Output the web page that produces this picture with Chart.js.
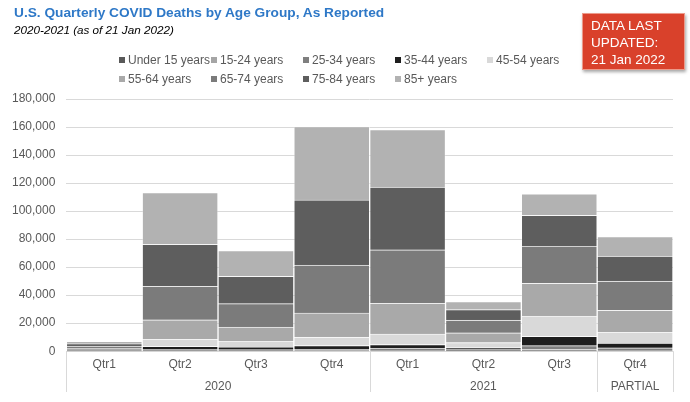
<!DOCTYPE html>
<html>
<head>
<meta charset="utf-8">
<script src="https://cdn.jsdelivr.net/npm/chart.js@4/dist/chart.umd.min.js"></script>
<style>
  body { margin: 0; background: #fff; font-family: "Liberation Sans", Arial, sans-serif; }
  #wrap { position: relative; width: 690px; height: 402px; }
  canvas { position: absolute; left: 0; top: 0; }
  #title { position: absolute; left: 14px; top: 5px; font-size: 13.7px; font-weight: bold; color: #2e78c7; }
  #subtitle { position: absolute; left: 14px; top: 23px; font-size: 11.7px; font-style: italic; color: #000; }
  #legend { position: absolute; left: 119px; top: 53px; }
  .item { position: absolute; font-size: 12px; color: #595959; white-space: nowrap; line-height: 14px; }
  .item span { display: inline-block; width: 6px; height: 6px; margin-right: 3px; vertical-align: 1px; }
  #updated { position: absolute; left: 582px; top: 13px; width: 103px; height: 57px; background: #d9412b;
             color: #fff; font-size: 13.5px; line-height: 17px; box-sizing: border-box; padding: 3px 0 0 8px;
             border: 1px solid #ec9a8a; box-shadow: 1px 2px 3px rgba(0,0,0,0.35); }
</style>
</head>
<body>
<div id="wrap">
  <canvas id="chart" width="690" height="402"></canvas>
  <div id="title">U.S. Quarterly COVID Deaths by Age Group, As Reported</div>
  <div id="subtitle">2020-2021 (as of 21 Jan 2022)</div>
  <div id="legend"></div>
  <div id="updated">DATA LAST<br>UPDATED:<br>21 Jan 2022</div>
</div>
<script>
// Data
const quarters = ['Qtr1', 'Qtr2', 'Qtr3', 'Qtr4', 'Qtr1', 'Qtr2', 'Qtr3', 'Qtr4'];
const groupNames = ['2020', '2021', 'PARTIAL'];
const groupCenters = [1.5, 5, 7];
const groupEdges = [-0.5, 3.5, 6.5, 7.5];
const yTicks = [0, 20000, 40000, 60000, 80000, 100000, 120000, 140000, 160000, 180000];

const ageGroups = ['Under 15 years', '15-24 years', '25-34 years', '35-44 years', '45-54 years',
                   '55-64 years', '65-74 years', '75-84 years', '85+ years'];
const colors = ['#595959', '#a5a5a5', '#7f7f7f', '#1e1e1e', '#d9d9d9',
                '#a9a9a9', '#7b7b7b', '#5e5e5e', '#b2b2b2'];

const under15 = [5, 80, 70, 100, 150, 100, 200, 150];
const age15to24 = [20, 300, 300, 400, 600, 300, 1000, 500];
const age25to34 = [80, 900, 800, 1100, 1400, 800, 2800, 1800];
const age35to44 = [220, 2200, 1900, 2500, 2600, 1400, 6700, 3300];
const age45to54 = [550, 5000, 4100, 6000, 7600, 3600, 14300, 7700];
const age55to64 = [1100, 13900, 10000, 17200, 21800, 7000, 23500, 15800];
const age65to74 = [1600, 23900, 16800, 34100, 38200, 9100, 26300, 20800];
const age75to84 = [1800, 30000, 19500, 46600, 44700, 7400, 22200, 17900];
const age85plus = [1700, 37000, 18400, 52400, 41200, 5700, 15300, 13900];

const series = [under15, age15to24, age25to34, age35to44, age45to54,
                age55to64, age65to74, age75to84, age85plus];

const FONT = '"Liberation Sans", Arial, sans-serif';

// Legend (two rows, fixed columns)
const legend = document.getElementById('legend');
ageGroups.forEach((name, i) => {
    const div = document.createElement('div');
    div.className = 'item';
    div.style.left = (i % 5) * 92 + 'px';
    div.style.top = Math.floor(i / 5) * 19 + 'px';
    div.innerHTML = '<span style="background:' + colors[i] + '"></span>' + name;
    legend.appendChild(div);
});

// Separator lines under the x axis between year groups
const groupLines = {
    id: 'groupLines',
    afterDraw(chart) {
        const ctx = chart.ctx;
        const x2 = chart.scales.x2;
        const top = chart.chartArea.bottom;
        const bottom = x2.bottom - 4;
        ctx.save();
        ctx.strokeStyle = '#d9d9d9';
        ctx.lineWidth = 1;
        groupEdges.forEach(v => {
            const px = Math.round(x2.getPixelForValue(v)) + 0.5;
            ctx.beginPath();
            ctx.moveTo(px, top);
            ctx.lineTo(px, bottom);
            ctx.stroke();
        });
        ctx.restore();
    }
};

new Chart(document.getElementById('chart'), {
    type: 'bar',
    data: {
        labels: quarters,
        datasets: ageGroups.map((name, i) => ({
            label: name,
            data: series[i],
            backgroundColor: colors[i],
            borderColor: 'rgba(255,255,255,0.25)',
            borderWidth: 1,
            categoryPercentage: 1,
            barPercentage: 1
        }))
    },
    options: {
        responsive: false,
        animation: false,
        layout: { padding: { left: 1, right: 17, top: 99, bottom: 6 } },
        plugins: { legend: { display: false }, tooltip: { enabled: false } },
        scales: {
            x: {
                stacked: true,
                grid: { display: false, drawTicks: false },
                border: { display: false },
                ticks: { color: '#595959', font: { family: FONT, size: 12 }, padding: 6, maxRotation: 0 }
            },
            x2: {
                type: 'linear',
                position: 'bottom',
                offset: false,
                bounds: 'data',
                min: -0.5,
                max: 7.5,
                grid: { display: false, drawTicks: false, offset: false },
                border: { display: false },
                afterBuildTicks: axis => { axis.ticks = groupCenters.map(v => ({ value: v })); },
                ticks: {
                    autoSkip: false,
                    maxRotation: 0,
                    color: '#595959',
                    font: { family: FONT, size: 12 },
                    padding: 2,
                    callback: (v, i) => groupNames[i]
                }
            },
            y: {
                stacked: true,
                min: 0,
                max: 180000,
                afterBuildTicks: axis => { axis.ticks = yTicks.map(v => ({ value: v })); },
                grid: { color: '#d9d9d9', drawTicks: false },
                border: { display: false },
                ticks: {
                    color: '#595959',
                    font: { family: FONT, size: 12 },
                    padding: 11,
                    callback: v => v.toLocaleString('en-US')
                }
            }
        }
    },
    plugins: [groupLines]
});
</script>
</body>
</html>
